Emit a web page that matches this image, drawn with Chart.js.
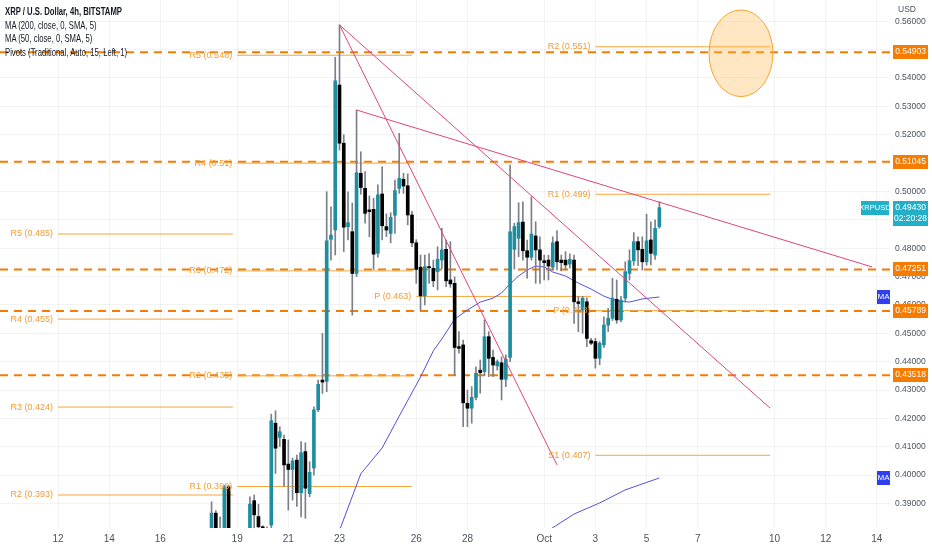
<!DOCTYPE html>
<html>
<head>
<meta charset="utf-8">
<script src="https://cdn.jsdelivr.net/npm/chart.js@4.4.0/dist/chart.umd.min.js"></script>
<style>
html, body { margin: 0; padding: 0; background: #fff; }
#wrap { position: relative; width: 932px; height: 550px; }
#legend { position: absolute; left: 5px; top: 5px; font: 11px "Liberation Sans", Arial, sans-serif; color: #131722; line-height: 13.6px; pointer-events: none; transform: scaleX(0.7); transform-origin: 0 0; white-space: nowrap; }
#legend b { font-weight: 600; }
</style>
</head>
<body>
<div id="wrap">
<canvas id="chart" width="932" height="550"></canvas>
<div id="legend"><b>XRP / U.S. Dollar, 4h, BITSTAMP</b><br>MA (200, close, 0, SMA, 5)<br>MA (50, close, 0, SMA, 5)<br>Pivots (Traditional, Auto, 15, Left, 1)</div>
</div>
<script>
// time axis is in days of September (Oct 1 = 31), one candle every 4h starting Sep 18 00:00
var firstDay = 18;

var open = [0.3780, 0.3866, 0.3790, 0.3740, 0.3959, 0.3760, 0.3720, 0.3750, 0.3730, 0.3780,
    0.3910, 0.3854, 0.3818, 0.3812, 0.3824, 0.4183, 0.4133, 0.4126, 0.4039, 0.4020,
    0.4053, 0.3938, 0.4083, 0.3935, 0.4025, 0.4230, 0.4335, 0.4330, 0.4831, 0.4864,
    0.5375, 0.5170, 0.4876, 0.4858, 0.4711, 0.5064, 0.5011, 0.4935, 0.4937, 0.4782,
    0.4991, 0.4876, 0.4852, 0.4916, 0.5011, 0.5043, 0.5020, 0.4917, 0.4819, 0.4733,
    0.4632, 0.4735, 0.4729, 0.4717, 0.4758, 0.4796, 0.4688, 0.4676, 0.4453, 0.4459,
    0.4253, 0.4236, 0.4274, 0.4370, 0.4365, 0.4488, 0.4415, 0.4385, 0.4396, 0.4338,
    0.4415, 0.4796, 0.4835, 0.4892, 0.4791, 0.4768, 0.4843, 0.4794, 0.4756, 0.4758,
    0.4733, 0.4823, 0.4758, 0.4758, 0.4744, 0.4758, 0.4611, 0.4582, 0.4611, 0.4474,
    0.4471, 0.4412, 0.4459, 0.4529, 0.4553, 0.4620, 0.4547, 0.4624, 0.4711, 0.4756,
    0.4823, 0.4796, 0.4752, 0.4829, 0.4776, 0.4876];
var high = [0.3906, 0.3875, 0.3853, 0.3965, 0.3965, 0.3800, 0.3790, 0.3800, 0.3805, 0.3924,
    0.3930, 0.3898, 0.3822, 0.3818, 0.4215, 0.4227, 0.4171, 0.4141, 0.4124, 0.4060,
    0.4071, 0.4118, 0.4114, 0.4047, 0.4241, 0.4335, 0.4500, 0.4999, 0.4946, 0.5473,
    0.5587, 0.5200, 0.4999, 0.4959, 0.5287, 0.5140, 0.5070, 0.4984, 0.4976, 0.5023,
    0.5087, 0.4921, 0.4925, 0.5040, 0.5205, 0.5064, 0.5062, 0.4930, 0.4830, 0.4776,
    0.4776, 0.4781, 0.4758, 0.4805, 0.4870, 0.4829, 0.4823, 0.4699, 0.4506, 0.4476,
    0.4300, 0.4312, 0.4382, 0.4406, 0.4547, 0.4506, 0.4441, 0.4406, 0.4417, 0.4424,
    0.5093, 0.4888, 0.4960, 0.4963, 0.4829, 0.4981, 0.4893, 0.4840, 0.4776, 0.4775,
    0.4840, 0.4862, 0.4776, 0.4788, 0.4780, 0.4776, 0.4630, 0.4630, 0.4625, 0.4482,
    0.4482, 0.4471, 0.4558, 0.4588, 0.4694, 0.4688, 0.4630, 0.4752, 0.4794, 0.4855,
    0.4840, 0.4840, 0.4920, 0.4893, 0.4900, 0.4964];
var low = [0.3760, 0.3760, 0.3700, 0.3720, 0.3700, 0.3690, 0.3680, 0.3700, 0.3710, 0.3760,
    0.3815, 0.3790, 0.3780, 0.3770, 0.3800, 0.4006, 0.4100, 0.3960, 0.3877, 0.3912,
    0.3890, 0.3853, 0.3848, 0.3924, 0.4000, 0.4224, 0.4288, 0.4294, 0.4758, 0.4776,
    0.5146, 0.4788, 0.4829, 0.4564, 0.4700, 0.4990, 0.4888, 0.4840, 0.4725, 0.4768,
    0.4829, 0.4841, 0.4819, 0.4852, 0.4993, 0.4993, 0.4882, 0.4805, 0.4676, 0.4582,
    0.4600, 0.4676, 0.4664, 0.4653, 0.4729, 0.4664, 0.4662, 0.4353, 0.4430, 0.4171,
    0.4171, 0.4183, 0.4265, 0.4289, 0.4350, 0.4347, 0.4347, 0.4370, 0.4265, 0.4312,
    0.4400, 0.4726, 0.4770, 0.4758, 0.4694, 0.4758, 0.4676, 0.4676, 0.4688, 0.4688,
    0.4723, 0.4723, 0.4720, 0.4723, 0.4730, 0.4535, 0.4506, 0.4500, 0.4453, 0.4460,
    0.4377, 0.4389, 0.4450, 0.4506, 0.4545, 0.4535, 0.4540, 0.4610, 0.4688, 0.4740,
    0.4738, 0.4723, 0.4740, 0.4741, 0.4760, 0.4870];
var close = [0.3866, 0.3790, 0.3740, 0.3959, 0.3760, 0.3720, 0.3750, 0.3730, 0.3780, 0.3898,
    0.3860, 0.3818, 0.3812, 0.3800, 0.4192, 0.4095, 0.4153, 0.4036, 0.4020, 0.4050,
    0.3938, 0.4079, 0.3954, 0.4010, 0.4230, 0.4320, 0.4328, 0.4826, 0.4846, 0.5390,
    0.5170, 0.4874, 0.4890, 0.4711, 0.5066, 0.5014, 0.4923, 0.4929, 0.4779, 0.4988,
    0.4879, 0.4864, 0.4909, 0.5003, 0.5046, 0.5019, 0.4917, 0.4819, 0.4725, 0.4632,
    0.4735, 0.4731, 0.4685, 0.4761, 0.4794, 0.4685, 0.4674, 0.4450, 0.4447, 0.4255,
    0.4236, 0.4274, 0.4359, 0.4361, 0.4488, 0.4412, 0.4388, 0.4400, 0.4338, 0.4408,
    0.4858, 0.4876, 0.4890, 0.4791, 0.4768, 0.4850, 0.4794, 0.4758, 0.4749, 0.4737,
    0.4819, 0.4752, 0.4749, 0.4741, 0.4761, 0.4611, 0.4605, 0.4624, 0.4482, 0.4465,
    0.4412, 0.4465, 0.4529, 0.4553, 0.4624, 0.4547, 0.4617, 0.4717, 0.4756, 0.4823,
    0.4794, 0.4752, 0.4826, 0.4782, 0.4870, 0.4943];

// moving averages, at candle slots
var ma50Slot = [30, 35, 40, 44, 49, 52, 54, 57, 60, 63, 66, 68, 70, 72, 74, 76, 78, 80, 83, 86, 89, 92, 95, 98, 101, 105];
var ma50Value = [0.3805, 0.4005, 0.4096, 0.4208, 0.4346, 0.4438, 0.4480, 0.4550, 0.4582, 0.4610, 0.4624, 0.4642, 0.4674,
    0.4702, 0.4723, 0.4737, 0.4734, 0.4716, 0.4702, 0.4677, 0.4656, 0.4631, 0.4614, 0.4610, 0.4621, 0.4628];
var ma200Slot = [79, 85, 91, 97, 105];
var ma200Value = [0.3805, 0.3863, 0.3902, 0.3948, 0.3990];

// weekly pivots
var pivotStart = [12, 12, 12, 12, 19, 19, 19, 19, 19, 26, 33, 33, 33, 33];
var pivotName = ['R5', 'R4', 'R3', 'R2', 'R1', 'R2', 'R3', 'R4', 'R5', 'P', 'R2', 'R1', 'P', 'S1'];
var pivotValue = [0.485, 0.455, 0.424, 0.393, 0.396, 0.435, 0.472, 0.51, 0.548, 0.463, 0.551, 0.499, 0.458, 0.407];

var levels = [0.54903, 0.51045, 0.47251, 0.45789, 0.43518];

// trend lines [day, price]
var trendFrom = [[23, 0.5587], [23, 0.5587], [23.667, 0.5287]];
var trendTo = [[31.5, 0.4036], [39.82, 0.4237], [43.81, 0.4734]];

var xTickValues = [12, 14, 16, 19, 21, 23, 26, 28, 31, 33, 35, 37, 40, 42, 44];
var xTickLabels = ['12', '14', '16', '19', '21', '23', '26', '28', 'Oct', '3', '5', '7', '10', '12', '14'];

var X_MIN = 9.733, X_MAX = 44.513;
var Y_MIN = 0.38137, Y_MAX = 0.56748;
var FONT = '"Liberation Sans", Arial, sans-serif';
var UP = '#1c8e9f', DOWN = '#000000', WICK = '#7b7f88';
var GRID = 'rgba(42,46,57,0.06)';

var slotDay = function (k) { return firstDay + k / 6; };
var wickData = open.map(function (v, i) { return { x: slotDay(i), y: [low[i], high[i]] }; });
var bodyData = open.map(function (v, i) { return { x: slotDay(i), y: [open[i], close[i]] }; });
var bodyColors = open.map(function (v, i) { return close[i] >= open[i] ? UP : DOWN; });

var datasets = [];
levels.forEach(function (v) {
    datasets.push({ type: 'line', data: [{ x: X_MIN, y: v }, { x: X_MAX, y: v }], borderColor: '#f57c00',
        borderWidth: 2, borderDash: [8, 6], pointRadius: 0, order: 10 });
});
pivotValue.forEach(function (v, i) {
    datasets.push({ type: 'line', data: [{ x: pivotStart[i], y: v }, { x: pivotStart[i] + 6.833, y: v }],
        borderColor: '#f7a53b', borderWidth: 1, pointRadius: 0, order: 9 });
});
datasets.push({ type: 'line', data: ma50Slot.map(function (k, i) { return { x: slotDay(k), y: ma50Value[i] }; }),
    borderColor: '#4f52e0', borderWidth: 1, pointRadius: 0, order: 5 });
datasets.push({ type: 'line', data: ma200Slot.map(function (k, i) { return { x: slotDay(k), y: ma200Value[i] }; }),
    borderColor: '#4f52e0', borderWidth: 1, pointRadius: 0, order: 5 });
datasets.push({ type: 'bar', data: wickData, backgroundColor: WICK, barThickness: 1, grouped: false, order: 4 });
datasets.push({ type: 'bar', data: bodyData, backgroundColor: bodyColors, barThickness: 3, minBarLength: 1, grouped: false, order: 3 });
trendFrom.forEach(function (p, i) {
    datasets.push({ type: 'line', data: [{ x: p[0], y: p[1] }, { x: trendTo[i][0], y: trendTo[i][1] }],
        borderColor: '#e0457b', borderWidth: 1, pointRadius: 0, order: 1 });
});

var overlay = {
    id: 'overlay',
    afterDatasetsDraw: function (chart) {
        var ctx = chart.ctx, xs = chart.scales.x, ys = chart.scales.y, a = chart.chartArea;
        ctx.save();
        ctx.beginPath();
        ctx.rect(a.left, a.top, a.right - a.left, a.bottom - a.top);
        ctx.clip();
        // highlight ellipse
        var cx = xs.getPixelForValue(38.69), cy = ys.getPixelForValue(0.5487);
        var rx = xs.getPixelForValue(38.69 + 1.25) - cx, ry = cy - ys.getPixelForValue(0.5487 + 0.01527);
        ctx.beginPath();
        ctx.ellipse(cx, cy, rx, ry, 0, 0, 2 * Math.PI);
        ctx.fillStyle = 'rgba(255,183,77,0.33)';
        ctx.fill();
        ctx.strokeStyle = '#f5a42c';
        ctx.lineWidth = 1;
        ctx.stroke();
        // pivot labels
        ctx.font = '9px ' + FONT;
        ctx.fillStyle = '#f39c33';
        ctx.textAlign = 'right';
        ctx.textBaseline = 'middle';
        pivotValue.forEach(function (v, i) {
            ctx.fillText(pivotName[i] + ' (' + v + ')', xs.getPixelForValue(pivotStart[i]) - 5, ys.getPixelForValue(v));
        });
        ctx.restore();
    },
    afterDraw: function (chart) {
        var ctx = chart.ctx, ys = chart.scales.y, a = chart.chartArea;
        var bx = a.right + 3, bw = 35;
        ctx.save();
        ctx.font = '8.5px ' + FONT;
        ctx.textBaseline = 'middle';
        ctx.textAlign = 'left';
        ctx.fillStyle = '#4c525e';
        ctx.fillText('USD', bx + 5, 10);
        ctx.textAlign = 'center';
        levels.forEach(function (v) {
            var y = Math.round(ys.getPixelForValue(v));
            ctx.fillStyle = '#f57c00';
            ctx.fillRect(bx, y - 7, bw, 14);
            ctx.fillStyle = '#fff';
            ctx.fillText(v.toFixed(5), bx + bw / 2, y);
        });
        // last price
        var last = close[close.length - 1];
        var ly = Math.round(ys.getPixelForValue(last));
        ctx.fillStyle = '#22b0c8';
        ctx.fillRect(a.right - 29, ly - 7, 28, 14);
        ctx.fillRect(bx, ly - 7, bw, 25);
        ctx.fillStyle = '#fff';
        ctx.fillText(last.toFixed(5), bx + bw / 2, ly);
        ctx.fillText('02:20:28', bx + bw / 2, ly + 11);
        ctx.font = '7.5px ' + FONT;
        ctx.fillText('XRPUSD', a.right - 15, ly);
        // MA tags
        ctx.font = '8px ' + FONT;
        [ma50Value[ma50Value.length - 1], ma200Value[ma200Value.length - 1]].forEach(function (v) {
            var y = Math.round(ys.getPixelForValue(v));
            ctx.fillStyle = '#2f3ff0';
            ctx.fillRect(a.right - 13, y - 7, 13, 14);
            ctx.fillStyle = '#fff';
            ctx.fillText('MA', a.right - 6.5, y);
        });
        ctx.restore();
    }
};

new Chart(document.getElementById('chart'), {
    type: 'bar',
    data: { datasets: datasets },
    options: {
        responsive: false,
        animation: false,
        layout: { padding: 0 },
        plugins: { legend: { display: false }, tooltip: { enabled: false } },
        scales: {
            x: {
                type: 'linear',
                min: X_MIN,
                max: X_MAX,
                offset: false,
                grid: { color: GRID, drawTicks: false, offset: false },
                border: { display: false },
                afterBuildTicks: function (s) { s.ticks = xTickValues.map(function (v) { return { value: v }; }); },
                afterFit: function (s) { s.height = 22; s.paddingLeft = 0; s.paddingRight = 0; },
                ticks: {
                    autoSkip: false, maxRotation: 0, padding: 5, color: '#4c525e',
                    font: { family: FONT, size: 10 },
                    callback: function (v) { return xTickLabels[xTickValues.indexOf(v)]; }
                }
            },
            y: {
                position: 'right',
                min: Y_MIN,
                max: Y_MAX,
                grid: { color: GRID, drawTicks: false },
                border: { display: false },
                afterFit: function (s) { s.width = 42; s.paddingTop = 0; s.paddingBottom = 0; },
                ticks: {
                    stepSize: 0.01, includeBounds: false, padding: 5, color: '#4c525e',
                    font: { family: FONT, size: 8.5 },
                    callback: function (v) { return v.toFixed(5); }
                }
            }
        }
    },
    plugins: [overlay]
});
</script>
</body>
</html>
